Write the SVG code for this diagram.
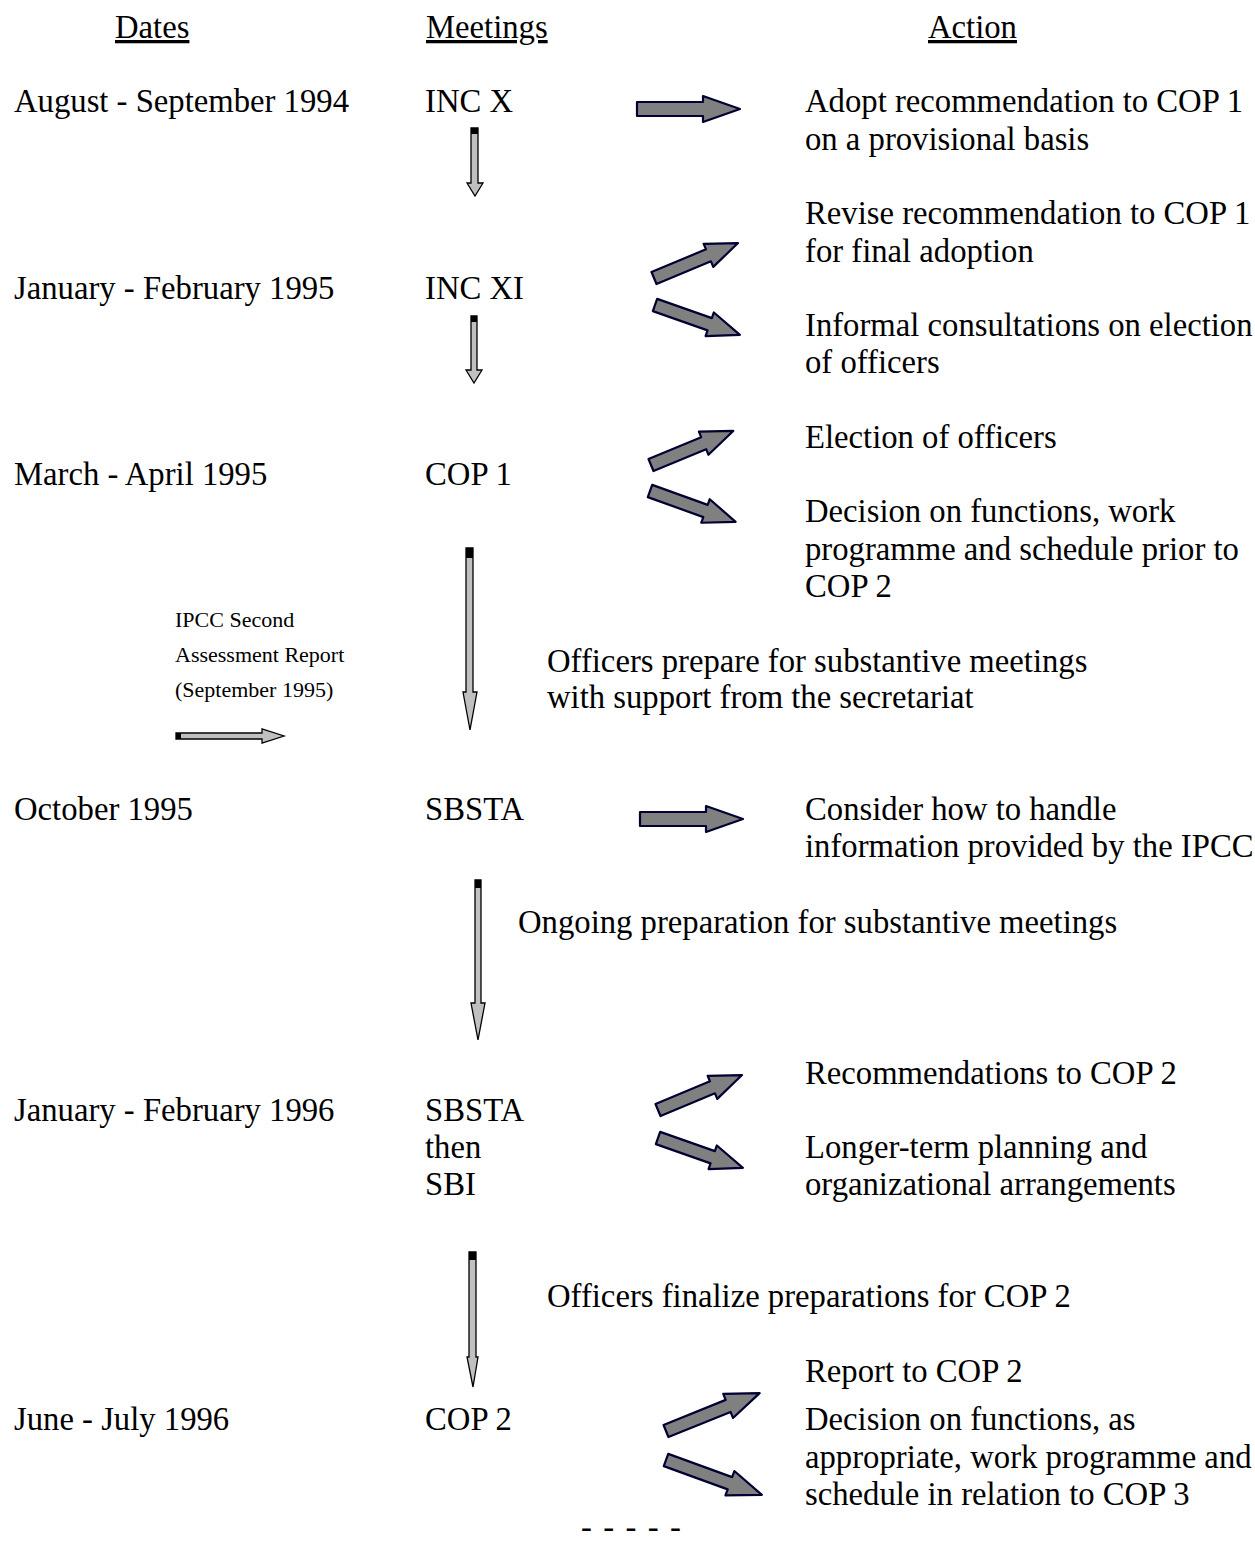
<svg xmlns="http://www.w3.org/2000/svg" width="1255" height="1562" viewBox="0 0 1255 1562">
<style>
text{font-family:"Liberation Serif","Times New Roman",serif;font-size:32.7px;fill:#000}
.small{font-size:22px}
.hdr{text-decoration:underline}
.fat{fill:#808080;stroke:#000033;stroke-width:2.2;stroke-linejoin:round}
.thin{fill:#c0c0c0;stroke:#000;stroke-width:1.3;stroke-linejoin:miter}
.cap{fill:#000}
</style>
<rect width="1255" height="1562" fill="#fff"/>
<g id="headers">
<text class="hdr" x="115" y="38">Dates</text>
<text class="hdr" x="426" y="38">Meetings</text>
<text class="hdr" x="928" y="38">Action</text>
</g>
<g id="dates">
<text x="14" y="112">August - September 1994</text>
<text x="14" y="299">January - February 1995</text>
<text x="14" y="485">March - April 1995</text>
<text x="14" y="820">October 1995</text>
<text x="14" y="1121">January - February 1996</text>
<text x="14" y="1430">June - July 1996</text>
</g>
<g id="meetings">
<text x="425" y="112">INC X</text>
<text x="425" y="299">INC XI</text>
<text x="425" y="485">COP 1</text>
<text x="425" y="820">SBSTA</text>
<text x="425" y="1121">SBSTA</text>
<text x="425" y="1158">then</text>
<text x="425" y="1195">SBI</text>
<text x="425" y="1430">COP 2</text>
</g>
<g id="actions">
<text x="805" y="112">Adopt recommendation to COP 1</text>
<text x="805" y="150">on a provisional basis</text>
<text x="805" y="224">Revise recommendation to COP 1</text>
<text x="805" y="262">for final adoption</text>
<text x="805" y="336">Informal consultations on election</text>
<text x="805" y="373">of officers</text>
<text x="805" y="448">Election of officers</text>
<text x="805" y="522">Decision on functions, work</text>
<text x="805" y="560">programme and schedule prior to</text>
<text x="805" y="597">COP 2</text>
<text x="805" y="820">Consider how to handle</text>
<text x="805" y="857">information provided by the IPCC</text>
<text x="805" y="1084">Recommendations to COP 2</text>
<text x="805" y="1158">Longer-term planning and</text>
<text x="805" y="1195">organizational arrangements</text>
<text x="805" y="1382">Report to COP 2</text>
<text x="805" y="1430">Decision on functions, as</text>
<text x="805" y="1468">appropriate, work programme and</text>
<text x="805" y="1505">schedule in relation to COP 3</text>
</g>
<g id="interim">
<text x="547" y="672">Officers prepare for substantive meetings</text>
<text x="547" y="708">with support from the secretariat</text>
<text x="518" y="933">Ongoing preparation for substantive meetings</text>
<text x="547" y="1307">Officers finalize preparations for COP 2</text>
<text x="581" y="1538" letter-spacing="1.6">- - - - -</text>
</g>
<g id="ipcc">
<text class="small" x="175" y="627">IPCC Second</text>
<text class="small" x="175" y="662">Assessment  Report</text>
<text class="small" x="175" y="697">(September 1995)</text>
</g>
<g id="connectors">
<path class="fat" d="M637,102 H703 V96 L740,109 L703,122 V116 H637 Z"/>
<path class="fat" d="M640,812 H706 V806 L743,819 L706,832 V826 H640 Z"/>
<path class="fat" transform="translate(654,278) rotate(-22.6)" d="M0,-6.5 H59 V-12.5 L91,0 L59,12.5 V6.5 H0 Z"/>
<path class="fat" transform="translate(655,305) rotate(19.4)" d="M0,-6.5 H58 V-12.5 L90,0 L58,12.5 V6.5 H0 Z"/>
<path class="fat" transform="translate(651,465) rotate(-22.5)" d="M0,-6.5 H57 V-12.5 L89,0 L57,12.5 V6.5 H0 Z"/>
<path class="fat" transform="translate(650,491) rotate(19.8)" d="M0,-6.5 H59 V-12.5 L91,0 L59,12.5 V6.5 H0 Z"/>
<path class="fat" transform="translate(658,1110) rotate(-22.6)" d="M0,-6.5 H59 V-12.5 L91,0 L59,12.5 V6.5 H0 Z"/>
<path class="fat" transform="translate(658,1138) rotate(19.4)" d="M0,-6.5 H58 V-12.5 L90,0 L58,12.5 V6.5 H0 Z"/>
<path class="fat" transform="translate(666,1431) rotate(-22)" d="M0,-6.5 H67 V-13 L101,0 L67,13 V6.5 H0 Z"/>
<path class="fat" transform="translate(666,1460) rotate(20)" d="M0,-6.5 H68 V-13 L102,0 L68,13 V6.5 H0 Z"/>
<path class="thin" d="M471,128 H478 V183 H483 L475,196 L467,183 H471 Z"/>
<rect class="cap" x="471" y="128" width="7" height="6"/>
<path class="thin" d="M471,316 H477 V370 H482 L474,383 L466,370 H471 Z"/>
<rect class="cap" x="471" y="316" width="6" height="6"/>
<path class="thin" d="M466,548 H473 V692 H477 L470,730 L463,692 H466 Z"/>
<rect class="cap" x="466" y="548" width="7" height="10"/>
<path class="thin" d="M475,880 H481 V1003 H485 L478,1040 L471,1003 H475 Z"/>
<rect class="cap" x="475" y="880" width="6" height="8"/>
<path class="thin" d="M469,1252 H476 V1357 H478 L473,1387 L467,1357 H469 Z"/>
<rect class="cap" x="469" y="1252" width="7" height="8"/>
<path class="thin" d="M176,733 H262 V729 L284,736 L262,743 V739 H176 Z"/>
<rect class="cap" x="176" y="733" width="5" height="6"/>
</g>
</svg>
